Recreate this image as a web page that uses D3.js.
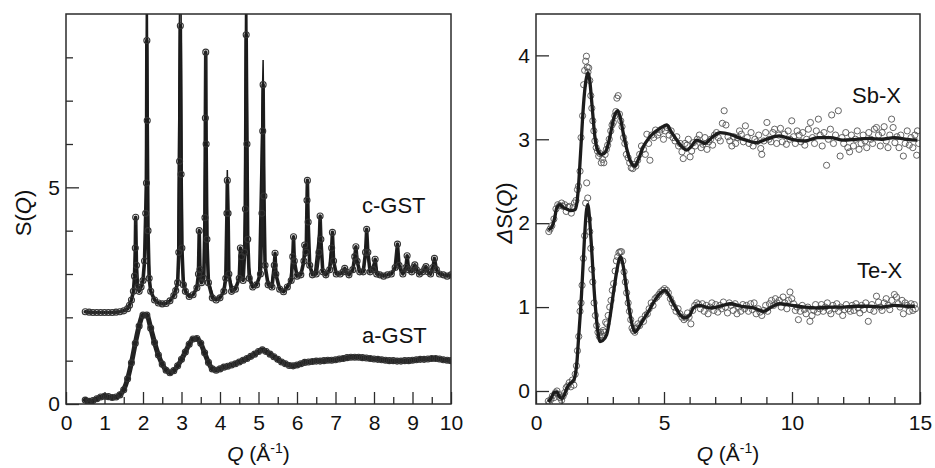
<!DOCTYPE html>
<html>
<head>
<meta charset="utf-8">
<script src="https://cdn.jsdelivr.net/npm/d3@7"></script>
<style>
  body { margin: 0; background: #fff; }
  svg { display: block; font-family: "Liberation Sans", Arial, Helvetica, sans-serif; }
</style>
</head>
<body>
<svg id="chart" width="935" height="468"></svg>
<script>
"use strict";

// ---- left panel: S(Q) of amorphous and crystalline GST ----
// a-GST measured points [Q, S]
const aGst = [
  [0.5,0.09],[0.6,0.06],[0.7,0.08],[0.8,0.12],[0.9,0.16],[1.0,0.18],[1.1,0.17],[1.2,0.15],[1.3,0.16],[1.4,0.21],
  [1.5,0.33],[1.6,0.58],[1.7,0.95],[1.8,1.40],[1.9,1.80],[2.0,2.05],[2.1,2.05],[2.2,1.75],[2.3,1.42],[2.4,1.13],
  [2.5,0.92],[2.6,0.78],[2.7,0.72],[2.8,0.77],[2.9,0.88],[3.0,1.03],[3.1,1.20],[3.2,1.38],[3.3,1.50],[3.4,1.51],
  [3.5,1.40],[3.6,1.18],[3.7,0.96],[3.8,0.81],[3.9,0.78],[4.0,0.81],[4.1,0.85],[4.2,0.87],[4.3,0.90],[4.4,0.93],
  [4.5,0.97],[4.6,1.01],[4.7,1.05],[4.8,1.10],[4.9,1.15],[5.0,1.21],[5.1,1.25],[5.2,1.21],[5.3,1.15],[5.4,1.09],
  [5.5,1.03],[5.6,0.97],[5.7,0.93],[5.8,0.89],[5.9,0.88],[6.0,0.90],[6.1,0.93],[6.2,0.96],[6.3,0.97],[6.4,0.98],
  [6.5,0.99],[6.6,0.99],[6.7,1.00],[6.8,1.01],[6.9,1.01],[7.0,1.02],[7.1,1.04],[7.2,1.05],[7.3,1.07],[7.4,1.08],
  [7.5,1.08],[7.6,1.08],[7.7,1.07],[7.8,1.06],[7.9,1.05],[8.0,1.04],[8.1,1.03],[8.2,1.02],[8.3,1.01],[8.4,1.00],
  [8.5,1.00],[8.6,0.99],[8.7,0.99],[8.8,1.00],[8.9,1.00],[9.0,1.01],[9.1,1.02],[9.2,1.03],[9.3,1.03],[9.4,1.04],
  [9.5,1.05],[9.6,1.05],[9.7,1.04],[9.8,1.02],[9.9,1.01],[10.0,1.00]
];

// c-GST measured points [Q, S]
const cGst = [
  [0.5,2.13],[0.6,2.12],[0.7,2.11],[0.8,2.11],[0.9,2.11],[1.0,2.11],[1.1,2.11],[1.2,2.11],[1.3,2.12],[1.4,2.13],
  [1.5,2.15],[1.6,2.2],[1.65,2.28],[1.7,2.4],[1.75,2.6],[1.78,2.95],[1.8,3.6],[1.81,4.31],[1.83,3.2],[1.86,2.7],
  [1.9,2.6],[1.95,2.7],[2.0,2.85],[2.04,3.3],[2.07,4.4],[2.09,5.1],[2.1,8.39],[2.11,6.54],[2.13,4.0],[2.16,2.9],
  [2.2,2.6],[2.3,2.4],[2.4,2.33],[2.5,2.31],[2.6,2.32],[2.7,2.38],[2.8,2.5],[2.85,2.62],[2.9,2.8],[2.93,3.5],
  [2.95,5.6],[2.97,8.73],[2.99,5.3],[3.01,3.6],[3.05,2.75],[3.1,2.6],[3.2,2.48],[3.3,2.52],[3.4,2.68],[3.44,3.0],
  [3.46,4.0],[3.48,3.1],[3.52,2.8],[3.58,2.9],[3.61,4.3],[3.62,6.6],[3.63,8.12],[3.64,6.0],[3.66,3.8],[3.7,2.8],
  [3.8,2.45],[3.9,2.4],[4.0,2.45],[4.1,2.6],[4.15,2.9],[4.18,4.4],[4.19,5.16],[4.21,4.4],[4.23,3.0],[4.3,2.6],
  [4.4,2.65],[4.5,2.9],[4.53,3.6],[4.56,3.4],[4.6,2.85],[4.64,3.5],[4.66,4.5],[4.68,8.52],[4.7,6.0],[4.72,3.8],
  [4.76,2.9],[4.85,2.7],[4.95,2.75],[5.05,3.0],[5.09,4.4],[5.11,6.3],[5.12,7.37],[5.14,4.8],[5.17,3.2],[5.25,2.75],
  [5.35,2.7],[5.41,3.2],[5.43,3.48],[5.45,3.0],[5.55,2.65],[5.65,2.59],[5.75,2.7],[5.85,2.85],[5.89,3.4],[5.91,3.86],
  [5.93,3.3],[6.0,2.95],[6.1,2.98],[6.18,3.3],[6.2,3.67],[6.24,3.5],[6.26,4.7],[6.27,5.16],[6.29,4.2],[6.33,3.2],
  [6.4,2.98],[6.5,3.0],[6.57,3.5],[6.6,4.34],[6.62,3.8],[6.67,3.05],[6.75,2.98],[6.85,3.1],[6.9,3.6],[6.92,3.96],
  [6.95,3.3],[7.02,3.0],[7.12,3.0],[7.2,3.05],[7.24,3.13],[7.28,3.05],[7.35,2.98],[7.45,3.1],[7.5,3.4],[7.53,3.63],
  [7.56,3.3],[7.63,3.05],[7.72,3.05],[7.78,3.5],[7.81,4.03],[7.84,3.5],[7.9,3.05],[7.98,3.1],[8.03,3.34],[8.07,3.0],
  [8.15,2.98],[8.25,2.95],[8.35,2.98],[8.45,3.0],[8.55,3.15],[8.61,3.69],[8.65,3.2],[8.75,3.0],[8.83,3.15],[8.86,3.42],
  [8.9,3.1],[8.98,3.05],[9.03,3.15],[9.06,3.21],[9.1,3.1],[9.18,3.0],[9.26,3.05],[9.32,3.12],[9.35,3.17],[9.4,3.05],
  [9.47,3.0],[9.53,3.15],[9.57,3.36],[9.62,3.1],[9.7,3.0],[9.8,2.98],[9.9,2.95],[10.0,2.98]
];

// c-GST fitted profile [Q, S] (three strongest peaks run off the top)
const cGstFit = [
  [0.5,2.13],[1.0,2.11],[1.4,2.13],[1.6,2.2],[1.7,2.4],[1.77,2.75],[1.81,4.13],[1.85,2.75],[1.92,2.62],[2.0,2.85],
  [2.06,3.6],[2.1,12],[2.14,3.6],[2.2,2.6],[2.35,2.36],[2.55,2.31],[2.75,2.42],[2.9,2.85],[2.97,12],[3.03,3.0],
  [3.15,2.52],[3.3,2.52],[3.42,2.8],[3.46,4.0],[3.5,2.9],[3.57,2.95],[3.63,7.71],[3.69,2.9],[3.85,2.42],[4.05,2.5],
  [4.15,2.95],[4.19,5.40],[4.24,2.95],[4.35,2.62],[4.48,2.85],[4.53,3.63],[4.58,2.95],[4.63,3.3],[4.68,12],[4.73,3.3],
  [4.85,2.7],[5.0,2.85],[5.12,7.94],[5.18,3.0],[5.33,2.7],[5.43,3.48],[5.5,2.75],[5.65,2.59],[5.82,2.85],[5.91,3.75],
  [5.98,2.95],[6.13,3.05],[6.2,3.6],[6.23,3.4],[6.27,5.02],[6.32,3.2],[6.45,3.0],[6.6,4.2],[6.66,3.05],[6.82,3.02],
  [6.92,3.9],[6.98,3.05],[7.15,3.0],[7.24,3.13],[7.3,3.0],[7.45,3.05],[7.53,3.55],[7.6,3.05],[7.74,3.05],[7.81,3.95],
  [7.88,3.05],[8.03,3.3],[8.1,3.0],[8.4,2.97],[8.55,3.1],[8.61,3.6],[8.68,3.05],[8.8,3.05],[8.86,3.38],[8.92,3.05],
  [9.06,3.2],[9.2,3.0],[9.35,3.15],[9.45,3.0],[9.57,3.3],[9.65,3.05],[9.8,2.97],[10.0,2.98]
];

// ---- right panel: differential structure factors ----
const sbFit = [
  [0.48,1.92],[0.61,1.95],[0.72,2.05],[0.81,2.18],[0.94,2.22],[1.05,2.19],[1.2,2.17],[1.35,2.15],[1.52,2.16],[1.6,2.25],
  [1.65,2.40],[1.74,2.83],[1.85,3.39],[1.95,3.70],[2.04,3.79],[2.1,3.70],[2.17,3.47],[2.3,3.03],[2.42,2.86],[2.55,2.82],
  [2.66,2.83],[2.76,2.88],[2.9,3.05],[3.02,3.23],[3.19,3.34],[3.3,3.25],[3.41,3.07],[3.55,2.88],[3.67,2.75],[3.87,2.68],
  [4.0,2.76],[4.19,2.91],[4.4,3.01],[4.58,3.07],[4.85,3.13],[5.1,3.17],[5.3,3.08],[5.5,2.99],[5.7,2.91],[5.89,2.87],
  [6.05,2.91],[6.28,2.99],[6.45,2.97],[6.6,2.95],[6.9,3.03],[7.19,3.08],[7.58,3.06],[7.9,3.02],[8.2,2.99],[8.6,2.96],
  [9.0,3.0],[9.5,3.04],[10.0,3.0],[10.5,2.98],[11.0,3.02],[11.5,3.02],[12.0,2.99],[12.5,3.0],[13.0,3.01],[13.5,3.0],
  [14.0,3.02],[14.5,3.0],[14.9,2.99]
];

const sbData = [
  [0.5,1.9],[0.55,1.93],[0.62,1.97],[0.7,2.05],[0.78,2.17],[0.85,2.22],[0.92,2.21],[1.0,2.24],[1.06,2.2],[1.12,2.22],
  [1.18,2.14],[1.25,2.19],[1.3,2.2],[1.38,2.12],[1.45,2.19],[1.5,2.24],[1.56,2.27],[1.62,2.4],[1.66,2.44],[1.72,2.62],
  [1.76,3.02],[1.82,3.28],[1.86,3.65],[1.9,3.82],[1.94,3.93],[1.97,3.99],[2.0,3.86],[2.03,3.8],[2.06,3.85],[2.1,3.7],
  [2.14,3.52],[2.18,3.37],[2.22,3.22],[2.26,3.1],[2.3,2.98],[2.35,2.9],[2.4,2.86],[2.45,2.8],[2.5,2.83],[2.55,2.72],
  [2.6,2.76],[2.65,2.72],[2.7,2.82],[2.75,2.88],[2.8,2.93],[2.86,3.0],[2.92,3.1],[2.97,3.17],[3.02,3.2],[3.08,3.28],
  [3.12,3.33],[3.16,3.49],[3.21,3.52],[3.26,3.3],[3.31,3.22],[3.36,3.15],[3.42,3.02],[3.47,2.95],[3.53,2.82],[3.6,2.78],
  [3.66,2.72],[3.72,2.66],[3.78,2.65],[3.84,2.7],[3.9,2.68],[3.97,2.75],[4.05,2.82],[4.12,2.92],[4.2,2.88],[4.27,2.82],
  [4.33,3.06],[4.4,2.95],[4.45,2.75],[4.52,3.05],[4.6,3.02],[4.67,3.11],[4.75,3.05],[4.82,3.08],[4.9,3.12],[4.98,3.0],
  [5.05,3.1],[5.12,3.14],[5.2,3.05],[5.28,3.1],[5.35,3.02],[5.43,2.98],[5.5,3.03],[5.57,2.92],[5.63,2.95],[5.7,2.85],
  [5.75,2.77],[5.82,2.95],[5.9,2.93],[5.95,3.0],[6.02,2.79],[6.08,2.86],[6.15,2.96],[6.22,2.92],[6.3,3.0],[6.38,3.05],
  [6.45,2.9],[6.52,2.94],[6.6,3.02],[6.68,2.88],[6.75,2.97],[6.82,3.0],[6.9,2.93],[6.97,3.05],[7.05,3.08],[7.12,3.02],
  [7.2,2.98],[7.28,3.19],[7.35,3.34],[7.42,3.17],[7.5,3.03],[7.57,2.98],[7.65,2.92],[7.72,3.03],[7.8,2.95],[7.88,3.02],
  [7.95,3.1],[8.02,3.06],[8.1,2.97],[8.18,3.16],[8.25,3.02],[8.32,2.95],[8.4,3.08],[8.48,2.92],[8.55,3.0],[8.62,2.97],
  [8.7,3.05],[8.78,2.89],[8.82,2.82],[8.9,2.98],[8.97,3.08],[9.02,3.2],[9.1,3.0],[9.18,2.97],[9.25,3.08],[9.32,3.12],
  [9.4,2.95],[9.48,3.05],[9.55,3.13],[9.62,2.97],[9.7,3.06],[9.78,2.94],[9.85,3.1],[9.92,3.0],[9.99,3.22],[10.06,3.03],
  [10.13,2.95],[10.2,3.1],[10.28,3.05],[10.35,2.97],[10.42,3.08],[10.5,2.93],[10.57,3.0],[10.64,3.12],[10.72,3.2],[10.8,3.02],
  [10.88,2.95],[10.95,3.1],[11.03,3.24],[11.1,3.05],[11.18,2.92],[11.25,3.08],[11.35,2.69],[11.42,3.0],[11.5,3.12],[11.55,3.29],
  [11.62,2.95],[11.7,3.05],[11.81,3.34],[11.88,2.8],[11.95,3.02],[12.02,2.95],[12.1,3.08],[12.18,2.9],[12.25,2.85],[12.32,3.05],
  [12.4,2.92],[12.48,3.0],[12.55,3.1],[12.62,2.88],[12.7,2.95],[12.78,3.05],[12.85,2.98],[12.92,2.9],[13.0,3.08],[13.08,3.0],
  [13.15,2.95],[13.22,3.12],[13.3,3.14],[13.38,3.05],[13.45,2.92],[13.52,3.08],[13.6,3.15],[13.68,2.98],[13.75,2.9],[13.82,3.05],
  [13.89,3.24],[13.95,3.14],[14.02,2.96],[14.1,3.03],[14.18,2.9],[14.25,3.05],[14.35,2.8],[14.42,2.95],[14.5,3.1],[14.58,2.93],
  [14.65,3.02],[14.72,2.9],[14.8,3.05],[14.87,2.81],[14.9,3.1],[14.95,2.95]
];

const teFit = [
  [0.48,-0.13],[0.6,-0.08],[0.7,-0.02],[0.81,-0.01],[0.9,-0.06],[1.0,-0.09],[1.1,-0.05],[1.2,0.03],[1.33,0.09],[1.45,0.12],
  [1.52,0.17],[1.6,0.35],[1.65,0.57],[1.78,1.16],[1.89,1.80],[1.96,2.12],[2.02,2.22],[2.08,2.1],[2.15,1.80],[2.3,1.08],
  [2.4,0.75],[2.5,0.59],[2.6,0.6],[2.76,0.67],[2.9,0.9],[3.02,1.16],[3.15,1.42],[3.25,1.57],[3.31,1.60],[3.4,1.5],
  [3.54,1.20],[3.64,0.98],[3.74,0.81],[3.87,0.70],[4.0,0.75],[4.19,0.85],[4.4,0.95],[4.58,1.05],[4.8,1.15],[5.04,1.20],
  [5.2,1.14],[5.35,1.05],[5.5,0.97],[5.65,0.9],[5.82,0.87],[6.0,0.9],[6.15,0.99],[6.35,1.02],[6.54,1.01],[6.8,0.99],
  [7.06,1.0],[7.3,1.02],[7.6,1.04],[8.0,1.01],[8.5,0.99],[8.9,0.95],[9.2,1.0],[9.5,1.04],[10.0,1.02],[10.5,1.0],
  [11.0,0.99],[11.5,1.0],[12.0,1.0],[12.5,1.01],[13.0,1.01],[13.5,1.0],[14.0,1.02],[14.5,1.01],[14.8,1.01]
];

const teData = [
  [0.48,-0.12],[0.52,-0.15],[0.58,-0.1],[0.64,-0.06],[0.7,-0.08],[0.76,-0.02],[0.82,0.0],[0.88,-0.04],[0.94,-0.08],[1.0,-0.11],
  [1.06,-0.06],[1.12,-0.02],[1.18,0.04],[1.24,0.06],[1.3,0.1],[1.36,0.05],[1.42,0.13],[1.48,0.07],[1.53,0.2],[1.58,0.3],
  [1.62,0.48],[1.67,0.65],[1.72,0.95],[1.76,1.05],[1.8,1.26],[1.85,1.58],[1.9,1.85],[1.94,2.24],[1.98,2.48],[2.02,2.3],
  [2.06,2.05],[2.1,1.9],[2.14,1.7],[2.18,1.45],[2.22,1.3],[2.27,1.05],[2.32,0.9],[2.37,0.78],[2.42,0.7],[2.47,0.65],
  [2.52,0.7],[2.57,0.67],[2.62,0.72],[2.67,0.7],[2.72,0.82],[2.77,0.8],[2.82,0.9],[2.88,1.0],[2.93,1.08],[2.98,1.2],
  [3.03,1.28],[3.09,1.43],[3.14,1.55],[3.19,1.6],[3.24,1.65],[3.29,1.66],[3.34,1.66],[3.39,1.55],[3.44,1.42],[3.49,1.3],
  [3.54,1.17],[3.6,1.05],[3.65,0.95],[3.7,0.85],[3.75,0.75],[3.8,0.72],[3.86,0.7],[3.92,0.75],[3.98,0.8],[4.05,0.78],
  [4.12,0.85],[4.2,0.83],[4.27,0.9],[4.35,0.92],[4.42,0.98],[4.5,1.05],[4.57,1.02],[4.65,1.1],[4.72,1.12],[4.8,1.15],
  [4.87,1.18],[4.95,1.2],[5.02,1.22],[5.1,1.2],[5.17,1.17],[5.25,1.1],[5.32,1.05],[5.4,1.0],[5.47,0.95],[5.55,0.98],
  [5.62,0.92],[5.7,0.88],[5.78,0.85],[5.85,0.87],[5.92,0.93],[5.98,0.88],[6.05,0.8],[6.12,0.96],[6.2,1.02],[6.28,1.05],
  [6.35,1.03],[6.42,0.98],[6.5,1.04],[6.57,0.95],[6.65,1.02],[6.72,0.92],[6.8,1.0],[6.87,1.05],[6.95,0.96],[7.02,1.03],
  [7.1,0.94],[7.18,1.02],[7.25,0.98],[7.32,1.06],[7.4,1.0],[7.48,0.93],[7.55,1.05],[7.62,1.02],[7.7,0.96],[7.78,1.04],
  [7.85,0.92],[7.92,1.0],[8.0,0.95],[8.08,1.03],[8.15,0.98],[8.22,1.02],[8.3,0.95],[8.38,1.04],[8.45,0.97],[8.52,1.05],
  [8.6,0.92],[8.68,0.98],[8.75,0.94],[8.82,0.9],[8.9,0.96],[8.97,1.02],[9.05,0.95],[9.12,1.04],[9.2,1.08],[9.28,1.02],
  [9.35,1.1],[9.42,1.05],[9.5,1.08],[9.58,1.0],[9.65,1.12],[9.72,1.05],[9.8,0.98],[9.86,1.08],[9.92,1.18],[9.99,1.1],
  [10.06,1.04],[10.13,0.96],[10.2,1.0],[10.25,0.85],[10.32,0.95],[10.4,1.02],[10.48,0.97],[10.55,0.92],[10.62,1.0],[10.7,0.83],
  [10.78,0.9],[10.85,0.96],[10.92,1.03],[11.0,0.94],[11.08,0.98],[11.15,1.03],[11.22,0.95],[11.3,1.0],[11.38,1.05],[11.45,0.96],
  [11.52,0.92],[11.6,1.02],[11.68,0.98],[11.75,1.04],[11.82,0.95],[11.9,1.0],[11.98,0.9],[12.05,0.97],[12.12,1.03],[12.2,0.98],
  [12.28,0.95],[12.35,1.02],[12.42,0.96],[12.5,1.04],[12.58,0.99],[12.65,0.93],[12.72,1.02],[12.8,0.97],[12.88,1.05],[12.98,0.83],
  [13.05,0.97],[13.12,1.03],[13.2,0.95],[13.3,1.13],[13.38,1.06],[13.45,1.0],[13.52,0.96],[13.6,1.05],[13.68,1.1],[13.75,1.02],
  [13.82,0.97],[13.9,1.08],[14.0,1.15],[14.08,1.12],[14.15,1.04],[14.22,1.0],[14.3,1.08],[14.35,0.92],[14.42,1.05],[14.5,1.02],
  [14.58,0.95],[14.65,1.04],[14.72,0.96],[14.78,1.03],[14.82,0.98]
];

// tick values
const leftXMajor = [0, 1, 2, 3, 4, 5, 6, 7, 8, 9, 10];
const leftXMinor = [0.5, 1.5, 2.5, 3.5, 4.5, 5.5, 6.5, 7.5, 8.5, 9.5];
const leftYMajor = [0, 5];
const leftYMinor = [1, 2, 3, 4, 6, 7, 8];
const rightXMajor = [0, 5, 10, 15];
const rightXMinor = [1, 2, 3, 4, 6, 7, 8, 9, 11, 12, 13, 14];
const rightYMajor = [0, 1, 2, 3, 4];

const svg = d3.select("#chart");
const ink = "#2b2b2b";

function makePanel(p) {
  const x = d3.scaleLinear().domain(p.xDomain).range([p.left, p.right]);
  const y = d3.scaleLinear().domain(p.yDomain).range([p.bottom, p.top]);
  const g = svg.append("g");

  const clipId = "clip-" + p.key;
  svg.append("defs").append("clipPath").attr("id", clipId)
    .append("rect")
    .attr("x", p.left).attr("y", p.top)
    .attr("width", p.right - p.left).attr("height", p.bottom - p.top);

  const plot = g.append("g").attr("clip-path", "url(#" + clipId + ")");

  // minor + major ticks, pointing inward
  function axisStyle(sel) {
    sel.select(".domain").remove();
    sel.selectAll(".tick line").attr("stroke", ink).attr("stroke-width", 1.3);
    sel.selectAll(".tick text")
      .attr("fill", "#111")
      .style("font-size", "21px")
      .style("font-family", "'Liberation Sans', Arial, Helvetica, sans-serif");
  }
  if (p.xMinor.length) {
    g.append("g").attr("transform", "translate(0," + p.bottom + ")")
      .call(d3.axisBottom(x).tickValues(p.xMinor).tickSize(-7).tickFormat(""))
      .call(axisStyle);
  }
  g.append("g").attr("transform", "translate(0," + p.bottom + ")")
    .call(d3.axisBottom(x).tickValues(p.xMajor).tickSize(-12).tickPadding(11).tickFormat(d3.format("d")))
    .call(axisStyle);
  if (p.yMinor.length) {
    g.append("g").attr("transform", "translate(" + p.left + ",0)")
      .call(d3.axisLeft(y).tickValues(p.yMinor).tickSize(-7).tickFormat(""))
      .call(axisStyle);
  }
  g.append("g").attr("transform", "translate(" + p.left + ",0)")
    .call(d3.axisLeft(y).tickValues(p.yMajor).tickSize(-13).tickPadding(6).tickFormat(d3.format("d")))
    .call(axisStyle);

  // frame
  g.append("rect")
    .attr("x", p.left).attr("y", p.top)
    .attr("width", p.right - p.left).attr("height", p.bottom - p.top)
    .attr("fill", "none").attr("stroke", ink).attr("stroke-width", 1.5);

  // x title: Q (Å-1)
  const xt = g.append("text")
    .attr("x", (p.left + p.right) / 2).attr("y", 461)
    .attr("text-anchor", "middle")
    .style("font-size", "21px").attr("fill", "#111");
  xt.append("tspan").style("font-style", "italic").text("Q");
  xt.append("tspan").text(" (Å");
  xt.append("tspan").attr("dy", -8).style("font-size", "14px").text("-1");
  xt.append("tspan").attr("dy", 8).text(")");

  // y title
  const yt = g.append("text")
    .attr("transform", "translate(" + p.yTitleX + "," + ((p.top + p.bottom) / 2 + 4) + ") rotate(-90)")
    .attr("text-anchor", "middle")
    .style("font-size", "22px").attr("fill", "#111");
  if (p.delta) yt.append("tspan").style("font-style", "italic").text("Δ");
  yt.append("tspan").text("S(");
  yt.append("tspan").style("font-style", "italic").text("Q");
  yt.append("tspan").text(")");

  return { x, y, g, plot };
}

// ---- left panel ----
const L = makePanel({
  key: "left", left: 66, right: 451, top: 14, bottom: 404,
  xDomain: [0, 10], yDomain: [0, 9],
  xMajor: leftXMajor, xMinor: leftXMinor, yMajor: leftYMajor, yMinor: leftYMinor,
  yTitleX: 31, delta: false
});

const lineL = d3.line().x(d => L.x(d[0])).y(d => L.y(d[1]));

// dense band of measured points
L.plot.append("path").datum(aGst)
  .attr("d", lineL.curve(d3.curveMonotoneX))
  .attr("fill", "none").attr("stroke", "#222").attr("stroke-width", 5)
  .attr("stroke-linejoin", "round").attr("stroke-linecap", "round");
L.plot.append("path").datum(cGst)
  .attr("d", lineL.curve(d3.curveLinear))
  .attr("fill", "none").attr("stroke", "#222").attr("stroke-width", 3.6)
  .attr("stroke-linejoin", "round").attr("stroke-linecap", "round");
L.plot.append("path").datum(cGstFit)
  .attr("d", lineL.curve(d3.curveLinear))
  .attr("fill", "none").attr("stroke", "#1a1a1a").attr("stroke-width", 1.5);

[aGst, cGst].forEach(series => {
  L.plot.append("g").selectAll("circle").data(series).join("circle")
    .attr("cx", d => L.x(d[0])).attr("cy", d => L.y(d[1]))
    .attr("r", 3)
    .attr("fill", "none").attr("stroke", "#333").attr("stroke-width", 1.1);
});

L.g.append("text").attr("x", 362).attr("y", 213)
  .style("font-size", "22px").attr("fill", "#111").text("c-GST");
L.g.append("text").attr("x", 362).attr("y", 343)
  .style("font-size", "22px").attr("fill", "#111").text("a-GST");

// ---- right panel ----
const R = makePanel({
  key: "right", left: 536, right: 920, top: 14, bottom: 404,
  xDomain: [0, 15], yDomain: [-0.155, 4.493],
  xMajor: rightXMajor, xMinor: rightXMinor, yMajor: rightYMajor, yMinor: [],
  yTitleX: 512, delta: true
});

const lineR = d3.line().x(d => R.x(d[0])).y(d => R.y(d[1])).curve(d3.curveMonotoneX);

[sbData, teData].forEach(series => {
  R.plot.append("g").selectAll("circle").data(series).join("circle")
    .attr("cx", d => R.x(d[0])).attr("cy", d => R.y(d[1]))
    .attr("r", 3.1)
    .attr("fill", "none").attr("stroke", "#555").attr("stroke-width", 0.9);
});
[sbFit, teFit].forEach(series => {
  R.plot.append("path").datum(series)
    .attr("d", lineR)
    .attr("fill", "none").attr("stroke", "#1c1c1c").attr("stroke-width", 3.3)
    .attr("stroke-linejoin", "round");
});

R.g.append("text").attr("x", 852).attr("y", 103)
  .style("font-size", "22px").attr("fill", "#111").text("Sb-X");
R.g.append("text").attr("x", 857).attr("y", 278)
  .style("font-size", "22px").attr("fill", "#111").text("Te-X");
</script>
</body>
</html>
